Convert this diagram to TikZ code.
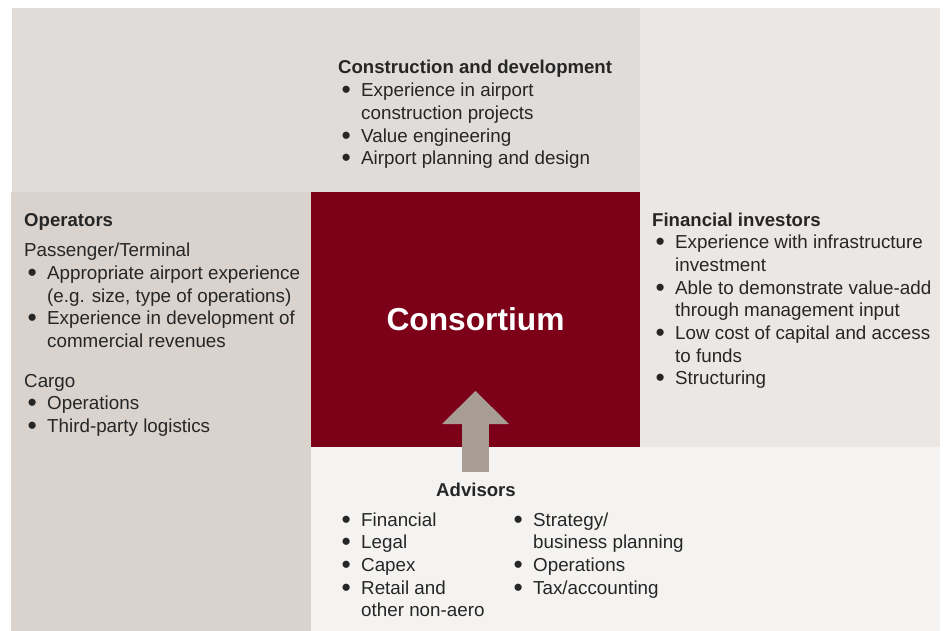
\documentclass[tikz,border=0pt]{standalone}
\usepackage{fontspec}
\setmainfont{Liberation Sans}
\usepackage{array}
\usetikzlibrary{arrows.meta}

\definecolor{topgrey}{HTML}{E0DCD9}
\definecolor{rightgrey}{HTML}{EBE7E4}
\definecolor{leftgrey}{HTML}{D9D2CD}
\definecolor{botgrey}{HTML}{F4F3F1}
\definecolor{consred}{HTML}{7D0019}
\definecolor{arrowgrey}{HTML}{A89D94}
\definecolor{inkgrey}{HTML}{262626}

\newcommand{\itm}{\hspace*{3.5pt}\smash{\raisebox{-2pt}{\scalebox{1.4}{\textbullet}}}}
\newcommand{\hd}[1]{\multicolumn{2}{@{}l@{}}{\fontsize{18.6}{22.7}\selectfont\bfseries #1}}
\newcommand{\blist}[1]{\begin{tabular}[t]{@{}p{23pt}@{}l@{}}#1\end{tabular}}

\begin{document}
\begin{tikzpicture}[x=1pt,y=-1pt,
    txt/.style={anchor=base west, inner sep=0pt, text=inkgrey,
      font=\fontsize{18.8}{22.7}\selectfont}]
  \useasboundingbox (0,0) rectangle (947,631);

  % panels
  \fill[topgrey]   (12,8)   rectangle (640,192);
  \fill[rightgrey] (640,8)  rectangle (940,447);
  \fill[leftgrey]  (11,192) rectangle (311,631);
  \fill[botgrey]   (311,447) rectangle (940,631);

  \node[fill=consred, minimum width=329pt, minimum height=255pt, inner sep=0pt,
        text=white, font=\fontsize{31.7}{36}\selectfont\bfseries]
    (cons) at (475.5,319.5) {Consortium};

  % texts
  \node[txt] (constr) at (338,74) {\blist{%
    \hd{Construction and development}\\
    \itm & Experience in airport\\
         & construction projects\\
    \itm & Value engineering\\
    \itm & Airport planning and design}};

  \node[txt] (oper) at (24,226) {\blist{%
    \hd{Operators}\\[8pt]
    \multicolumn{2}{@{}l@{}}{Passenger/Terminal}\\
    \itm & Appropriate airport experience\\
         & (e.g. size, type of operations)\\
    \itm & Experience in development of\\
         & commercial revenues\\[17pt]
    \multicolumn{2}{@{}l@{}}{Cargo}\\
    \itm & Operations\\
    \itm & Third-party logistics}};

  \node[txt] (fin) at (652,226) {\blist{%
    \hd{Financial investors}\\
    \itm & Experience with infrastructure\\
         & investment\\
    \itm & Able to demonstrate value-add\\
         & through management input\\
    \itm & Low cost of capital and access\\
         & to funds\\
    \itm & Structuring}};

  \node[txt, font=\fontsize{18.6}{22.7}\selectfont\bfseries] (adv) at (436,496) {Advisors};

  \node[txt] (advleft) at (338,526) {\blist{%
    \itm & Financial\\
    \itm & Legal\\
    \itm & Capex\\
    \itm & Retail and\\
         & other non-aero}};

  \node[txt] (advright) at (510,526) {\blist{%
    \itm & Strategy/\\
         & business planning\\
    \itm & Operations\\
    \itm & Tax/accounting}};

  % advisors arrow
  \coordinate (advtail) at (475.5,472);
  \coordinate (advtip)  at (475.5,391);
  \draw[arrowgrey, line width=27pt,
        -{Triangle[width=67pt, length=33pt, line width=0pt]}] (advtail) -- (advtip);

\end{tikzpicture}
\end{document}
